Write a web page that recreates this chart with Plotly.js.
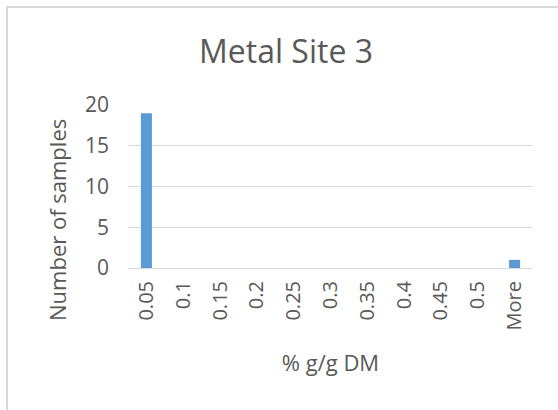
<!DOCTYPE html>
<html>
<head>
<meta charset="utf-8">
<script src="https://cdn.plot.ly/plotly-3.0.1.min.js"></script>
<style>
  html, body { margin: 0; padding: 0; background: #fff; }
  #wrap { position: relative; width: 558px; height: 410px; }
  #frame { position: absolute; left: 6px; top: 6px; width: 552px; height: 404px;
           border-top: 2px solid #d9d9d9; border-left: 2px solid #d9d9d9; box-sizing: border-box; pointer-events: none; z-index: 5; }
  #chart { position: absolute; left: 0; top: 0; width: 558px; height: 410px; }
</style>
</head>
<body>
<div id="wrap">
  <div id="chart"></div>
  <div id="frame"></div>
</div>
<script>
const categories = ["0.05", "0.1", "0.15", "0.2", "0.25", "0.3", "0.35", "0.4", "0.45", "0.5", "More"];
const counts = [19, 0, 0, 0, 0, 0, 0, 0, 0, 0, 1];
const yTicks = [0, 5, 10, 15, 20];

const textColor = '#595959';
const fontFam = '"Open Sans", "Liberation Sans", sans-serif';

const trace = {
  type: 'bar',
  x: categories,
  y: counts,
  marker: { color: '#5B9BD5' },
  width: 0.3,
  hoverinfo: 'x+y'
};

const layout = {
  width: 558,
  height: 410,
  paper_bgcolor: 'rgba(0,0,0,0)',
  plot_bgcolor: 'rgba(0,0,0,0)',
  margin: { l: 128, r: 25, t: 105, b: 142 },
  showlegend: false,
  title: {
    text: 'Metal Site 3',
    font: { family: fontFam, size: 32, color: textColor },
    x: 286 / 558, xanchor: 'center', xref: 'container',
    y: 1 - 52 / 410, yanchor: 'middle', yref: 'container'
  },
  xaxis: {
    type: 'category',
    tickangle: -90,
    tickfont: { family: fontFam, size: 20, color: textColor },
    showgrid: false,
    showline: true,
    linecolor: '#d9d9d9',
    linewidth: 1,
    ticks: '',
    ticklabelstandoff: 4,
    title: { text: '% g/g DM', font: { family: fontFam, size: 22, color: textColor }, standoff: 26 },
    fixedrange: true
  },
  yaxis: {
    range: [0, 20],
    tickvals: yTicks,
    ticktext: yTicks.map(String),
    tickfont: { family: fontFam, size: 21, color: textColor },
    showgrid: true,
    gridcolor: '#d9d9d9',
    gridwidth: 1,
    zeroline: false,
    showline: false,
    ticks: '',
    ticklabelstandoff: 18,
    fixedrange: true
  },
  annotations: [{
    text: 'Number of samples',
    textangle: -90,
    xref: 'paper', yref: 'paper',
    x: (57 - 128) / (558 - 128 - 25),
    y: (410 - 142 - 220) / (410 - 105 - 142),
    xanchor: 'center', yanchor: 'middle',
    showarrow: false,
    font: { family: fontFam, size: 22, color: textColor }
  }]
};

Plotly.newPlot('chart', [trace], layout, { displayModeBar: false, staticPlot: true });
</script>
</body>
</html>
